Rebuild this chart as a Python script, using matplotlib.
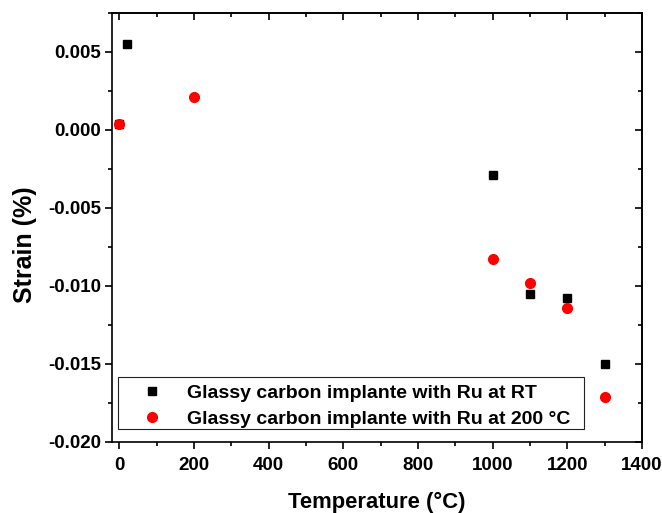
import matplotlib.pyplot as plt
from matplotlib.patches import Rectangle
from matplotlib.ticker import MultipleLocator

plt.rcParams['font.family'] = ['Liberation Sans', 'DejaVu Sans']
plt.rcParams['font.weight'] = 'bold'

# Strain vs annealing temperature
temp_rt = [0, 20, 1000, 1100, 1200, 1300]
strain_rt = [0.0004, 0.0055, -0.0029, -0.0105, -0.0108, -0.0150]

temp_200 = [0, 200, 1000, 1100, 1200, 1300]
strain_200 = [0.0004, 0.0021, -0.0083, -0.0098, -0.0114, -0.0171]

label_rt = 'Glassy carbon implante with Ru at RT'
label_200 = 'Glassy carbon implante with Ru at 200 \u00b0C'

fig = plt.figure(figsize=(6.62, 5.13), dpi=100)
ax = fig.add_axes([112 / 662, 1 - 442 / 513, (642 - 112) / 662, (442 - 13) / 513])

ax.plot(temp_rt, strain_rt, 's', color='black', ms=6.3, label=label_rt)
ax.plot(temp_200, strain_200, 'o', color='red', ms=7, mec='red', label=label_200)

ax.set_xlim(-20, 1400)
ax.set_ylim(-0.020, 0.0075)
ax.xaxis.set_major_locator(MultipleLocator(200))
ax.xaxis.set_minor_locator(MultipleLocator(100))
ax.yaxis.set_major_locator(MultipleLocator(0.005))
ax.yaxis.set_minor_locator(MultipleLocator(0.0025))
ax.yaxis.set_major_formatter(plt.FormatStrFormatter('%.3f'))

for side in ax.spines.values():
    side.set_linewidth(1.2)

# outward ticks bottom/left
ax.tick_params(which='both', width=1.2, labelsize=13.5, direction='out',
               top=False, right=False)
ax.tick_params(which='major', length=5)
ax.tick_params(which='minor', length=3)
ax.tick_params(axis='x', pad=6)
ax.tick_params(axis='y', pad=3)

# inward ticks on the top and right edges
ax2 = ax.secondary_xaxis('top')
ax2.xaxis.set_major_locator(MultipleLocator(200))
ax2.xaxis.set_minor_locator(MultipleLocator(100))
ax2.tick_params(which='both', direction='in', width=1.2, labeltop=False)
ax2.tick_params(which='major', length=5)
ax2.tick_params(which='minor', length=3)
ax2.spines['top'].set_linewidth(1.2)
ax3 = ax.secondary_yaxis('right')
ax3.yaxis.set_major_locator(MultipleLocator(0.005))
ax3.yaxis.set_minor_locator(MultipleLocator(0.0025))
ax3.tick_params(which='both', direction='in', width=1.2, labelright=False)
ax3.tick_params(which='major', length=5)
ax3.tick_params(which='minor', length=3)
ax3.spines['right'].set_linewidth(1.2)

ax.set_xlabel('Temperature (\u00b0C)', fontsize=15.8, fontweight='bold', labelpad=13)
ax.set_ylabel('Strain (%)', fontsize=18, fontweight='bold')
ax.yaxis.set_label_coords(-0.141, 0.459)

leg = ax.legend(loc='lower left', bbox_to_anchor=(0.011, 0.003), fontsize=14,
                frameon=False, handletextpad=0.7, borderpad=0.175,
                labelspacing=0.4, handlelength=2.2)

# legend frame with wider side margins
fig.canvas.draw()
bb = leg.get_window_extent()
frame = Rectangle((bb.x0 - 10, bb.y0 + 2), bb.width + 20, bb.height + 2,
                  transform=None, fill=False, edgecolor='#222222', linewidth=0.8)
fig.add_artist(frame)

fig.savefig('out.png', dpi=100)
